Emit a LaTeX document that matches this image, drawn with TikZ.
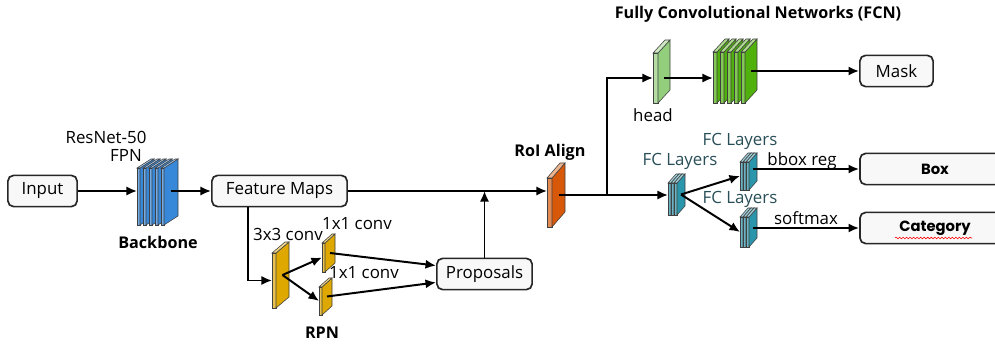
\documentclass[tikz,border=0pt]{standalone}
\usepackage[RGB]{xcolor}
\usepackage{fontspec}
\setmainfont{Open Sans}
\newfontfamily\geofont{Poppins}
\usetikzlibrary{arrows.meta,decorations.pathmorphing}
\definecolor{B}{RGB}{56,136,218}
\definecolor{Y}{RGB}{222,168,0}
\definecolor{O}{RGB}{214,88,8}
\definecolor{H}{RGB}{146,206,124}
\definecolor{G}{RGB}{80,176,12}
\definecolor{T}{RGB}{42,150,172}
\definecolor{boxfill}{RGB}{248,248,248}
\definecolor{fctext}{RGB}{40,78,88}
% one slab: name, x, y, width, height, dx, dy, colour
\newcommand{\drawplate}[8]{
    \filldraw[draw=black!75,fill=#8!70!white] (#2,#3) rectangle ({#2+#4},{#3+#5});
    \filldraw[draw=black!75,fill=#8] ({#2+#4},#3)--({#2+#4+#6},{#3+(#7)})--({#2+#4+#6},{#3+#5+(#7)})--({#2+#4},{#3+#5})--cycle;
    \filldraw[draw=black!75,fill=#8!45!white] (#2,#3)--({#2+#6},{#3+(#7)})--({#2+#4+#6},{#3+(#7)})--({#2+#4},#3)--cycle;
    \coordinate (#1-in) at (#2,{#3+#5/2});
    \coordinate (#1-out) at ({#2+#4+#6/2},{#3+#5/2+(#7)/2});
}

\begin{document}
\begin{tikzpicture}[x=0.025cm,y=-0.025cm,font=\fontsize{12}{14}\selectfont,
    block/.style={draw=black!85,line width=1.2pt,rounded corners=4pt,fill=boxfill,minimum height=0.78cm,inner sep=2pt},
    arr/.style={-{Latex[length=7.5pt,width=6.5pt]},line width=1.4pt},
    title/.style={font=\fontsize{11.5}{13}\selectfont\bfseries},
    fcl/.style={text=fctext}]
\useasboundingbox (0,0) rectangle (995,347);
\clip (0,0) rectangle (995,347);
% boxes
\node[block,minimum width=1.73cm] (input) at (42.5,191) {Input};
\node[block,minimum width=3.38cm] (fm) at (279.5,191) {Feature Maps};
\node[block,minimum width=2.38cm] (prop) at (484.5,274) {Proposals};
\node[block,minimum width=1.83cm] (mask) at (896.5,71) {Mask};
\node[block,minimum width=3.75cm,font=\geofont\bfseries\fontsize{10.5}{12}\selectfont] (box) at (935,169) {Box};
\node[block,minimum width=3.75cm,font=\geofont\bfseries\fontsize{10.5}{12}\selectfont] (cat) at (935,228) {Category};
% slabs
\foreach \i in {0,...,4}{\drawplate{bb\i}{137+6*\i}{168}{3}{57}{14}{-9}{B}}
\drawplate{c3}{272}{253}{4}{55}{13}{-11}{Y}
\drawplate{c1a}{322}{243}{3}{29}{10}{-9}{Y}
\drawplate{c1b}{319}{287}{3}{28}{10}{-9}{Y}
\drawplate{roi}{547}{178}{5}{49}{13}{-15}{O}
\drawplate{head}{653}{53}{5}{50}{12}{-13}{H}
\foreach \i in {0,...,4}{\drawplate{fcn\i}{713+7*\i}{52}{4}{51}{12}{-13}{G}}
\foreach \i in {0,1,2}{\drawplate{fca\i}{668+3*\i}{183}{3}{32}{8}{-9}{T}}
\foreach \i in {0,1,2}{\drawplate{fcb\i}{740+3*\i}{162}{3}{28}{8}{-9}{T}}
\foreach \i in {0,1,2}{\drawplate{fcc\i}{740+3*\i}{217}{3}{30}{8}{-9}{T}}
% arrows
\draw[arr] (input.east) -- (input.east -| bb0-in);
\draw[arr] (fm.west -| bb4-out) -- (fm.west);
\draw[arr] (fm.east) -- (fm.east -| roi-in);
\draw[arr] (prop.north) -- (prop.north |- fm.east);
\draw[arr] ([xshift=0.925cm]fm.south west) |- (c3-in);
\draw[arr] (c3-out) -- (c1a-in);
\draw[arr] (c3-out) -- (c1b-in);
\draw[arr] (c1a-out) -- ([yshift=6pt]prop.west);
\draw[arr] (c1b-out) -- ([yshift=-6pt]prop.west);
\coordinate (split) at (607,195);
\draw[arr] (roi-out) -- (roi-out -| fca0-in);
\draw[arr] (split) |- (head-in);
\draw[arr] (head-in -| head-out) -- (head-in -| fcn0-in);
\draw[arr] (mask.west -| fcn4-out) -- (mask.west);
\draw[arr] (fca2-out) -- (fcb0-in);
\draw[arr] (fca2-out) -- (fcc0-in);
\draw[arr] (box.west -| fcb2-out) -- (box.west);
\draw[arr] (cat.west -| fcc2-out) -- (cat.west);
% labels
\node (resnet) at (106,137) {ResNet-50};
\node (fpn) at (126,155) {FPN};
\node[title] (bbl) at (158,242) {Backbone};
\node (c3l) at (288,234) {3x3 conv};
\node (c1al) at (357,224) {1x1 conv};
\node (c1bl) at (364,273) {1x1 conv};
\node[title] (rpnl) at (322,333) {RPN};
\node[title] (roil) at (550,152) {RoI Align};
\node (headl) at (653,115) {head};
\node[title] (fcnl) at (758,14) {Fully Convolutional Networks (FCN)};
\node[fcl] (fcal) at (680,161) {FC Layers};
\node[fcl] (fcbl) at (740,141) {FC Layers};
\node[fcl] (fccl) at (740,199) {FC Layers};
\node (bboxl) at (802,161) {bbox reg};
\node (smaxl) at (806,218) {softmax};
\draw[red,line width=0.4pt,decorate,decoration={snake,amplitude=0.6pt,segment length=2.5pt}] (895,238) -- (972,238);
\end{tikzpicture}
\end{document}
